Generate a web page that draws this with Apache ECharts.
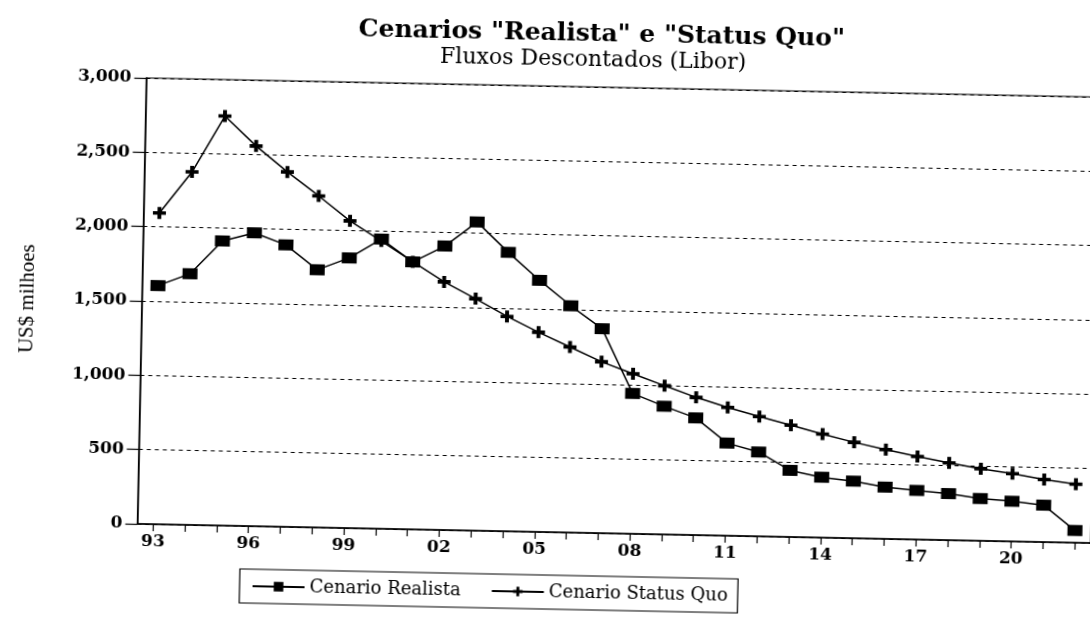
<!DOCTYPE html>
<html><head><meta charset="utf-8">
<script src="https://cdn.jsdelivr.net/npm/echarts@6/dist/echarts.min.js"></script>
<style>
html,body{margin:0;padding:0;background:#fff;overflow:hidden;width:1090px;height:637px;}
#chart{position:absolute;left:0;top:0;width:1110px;height:660px;transform-origin:545px 318.5px;transform:rotate(1.15deg);}
</style></head><body><div id="chart"></div>
<script>
const years = ['93','94','95','96','97','98','99','00','01','02','03','04','05','06','07','08','09','10','11','12','13','14','15','16','17','18','19','20','21','22'];
const realista = [1605,1689,1914,1973,1896,1733,1817,1948,1799,1910,2076,1876,1692,1525,1375,944,862,788,623,567,448,406,384,348,330,313,284,270,248,82];
const statusQuo = [2094,2374,2754,2557,2387,2230,2066,1935,1800,1669,1560,1445,1343,1248,1153,1076,1000,926,863,805,752,696,645,600,558,520,485,456,420,393];
const seriesNames = ['Cenario Realista','Cenario Status Quo'];
const titleText = 'Cenarios "Realista" e "Status Quo"';
const subtitleText = 'Fluxos Descontados (Libor)';
const yAxisName = 'US$ milhoes';
const yMin = 0, yMax = 3000, yStep = 500;

const serif = 'DejaVu Serif';
const plusPath = 'path://M3.5,0H6.5V3.5H10V6.5H6.5V10H3.5V6.5H0V3.5H3.5Z';
const chart = echarts.init(document.getElementById('chart'), null, {renderer:'canvas'});
chart.setOption({
  animation:false,
  backgroundColor:'#fff',
  title:[
    {text:titleText, left:596, top:21, textAlign:'center', padding:0,
     textStyle:{fontFamily:serif, fontWeight:'bold', fontSize:25, color:'#000'}},
    {text:subtitleText, left:588, top:48, textAlign:'center', padding:0,
     textStyle:{fontFamily:serif, fontWeight:'normal', fontSize:22, color:'#000'}}
  ],
  legend:{
    left:245, top:575, orient:'horizontal',
    borderColor:'#000', borderWidth:1.2, borderRadius:0,
    padding:[8,10,8,12], itemWidth:52, itemHeight:12, itemGap:30,
    textStyle:{fontFamily:serif, fontSize:18, color:'#000'},
    data:seriesNames
  },
  grid:{left:141.5, top:86, right:15, bottom:128, show:true, borderColor:'#000', borderWidth:1.2, backgroundColor:'transparent'},
  xAxis:{
    type:'category', data:years, boundaryGap:true,
    axisLine:{lineStyle:{color:'#000', width:1.5}},
    axisTick:{show:true, alignWithLabel:true, interval:0, length:7, lineStyle:{color:'#000', width:1.2}},
    axisLabel:{interval:2, color:'#000', fontFamily:serif, fontWeight:'bold', fontSize:17, margin:9},
    splitLine:{show:false}
  },
  yAxis:{
    type:'value', min:yMin, max:yMax, interval:yStep,
    axisLine:{show:true, lineStyle:{color:'#000', width:1.5}},
    axisTick:{show:true, length:12, lineStyle:{color:'#000', width:1.2}},
    axisLabel:{color:'#000', fontFamily:serif, fontWeight:'bold', fontSize:17, margin:15,
      formatter:v=>v.toLocaleString('en-US')},
    splitLine:{show:true, lineStyle:{color:'#000', width:1, type:[4,4]}},
    name:yAxisName, nameLocation:'middle', nameGap:104, nameRotate:90,
    nameTextStyle:{fontFamily:'Liberation Serif', fontSize:21, color:'#000'}
  },
  series:[
    {name:seriesNames[0], type:'line', data:realista, symbol:'rect', symbolSize:[15,11],
     lineStyle:{color:'#000', width:1.5}, itemStyle:{color:'#000'}},
    {name:seriesNames[1], type:'line', data:statusQuo, symbol:plusPath, symbolSize:[13,12],
     lineStyle:{color:'#000', width:1.5}, itemStyle:{color:'#000'}}
  ]
});
</script></body></html>
